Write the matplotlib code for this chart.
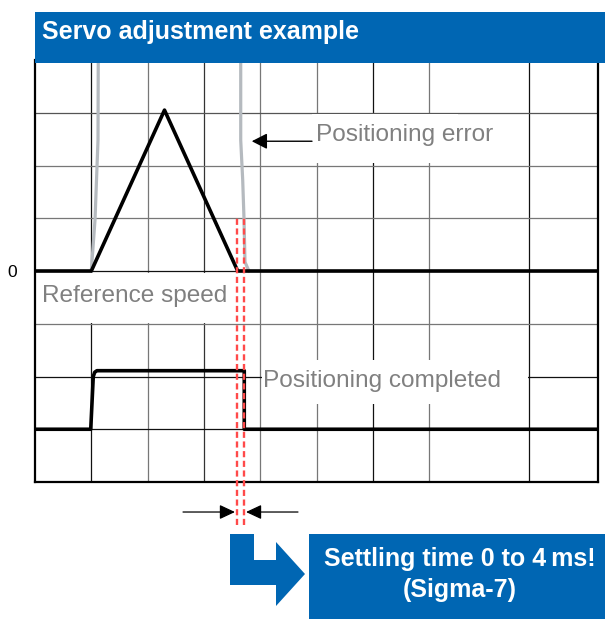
import matplotlib
matplotlib.use("Agg")
import matplotlib.pyplot as plt
from matplotlib.patches import Rectangle, Polygon

plt.rcParams['font.family'] = ['Liberation Sans', 'DejaVu Sans']

# ---------------- data (grid units: x = time divisions, y = divisions) ----------------
ref_speed_x = [0.0, 1.0, 2.3, 3.6, 10.0]
ref_speed_y = [4.0, 4.0, 7.05, 4.0, 4.0]

pos_error_x = [1.0, 1.066, 1.119, 1.125, None, 3.654, 3.654, 3.689, 3.712, 3.73, 3.80]
pos_error_y = [4.0, 4.97, 6.48, 8.6, None, 8.6, 6.48, 5.73, 5.0, 4.17, 4.0]

pos_done_x = [0.0, 0.99, 1.035, 1.06, 1.10, 3.717, 3.717, 10.0]
pos_done_y = [1.0, 1.0, 2.0, 2.08, 2.11, 2.11, 1.0, 1.0]

settle_x = [3.593, 3.72]          # red dashed markers
settle_y = [-0.815, 5.0]

vgrid = [1, 2, 3, 4, 5, 6, 7, 8.78]
vgrid_col = ['#111111', '#777777', '#333333', '#777777', '#777777', '#111111', '#777777', '#111111']
hgrid = [1, 2, 3, 4, 5, 6, 7]
hgrid_col = ['#111111', '#111111', '#777777', '#111111', '#777777', '#777777', '#555555']

zero_tick = [4.0]
zero_label = ['0']

title = 'Servo adjustment example'
label_ref = 'Reference speed'
label_err = 'Positioning error'
label_done = 'Positioning completed'
callout = 'Settling time 0 to 4\u2009ms!\n(Sigma-7)'

BLUE = '#0066b3'
GRAY_TXT = '#808080'

# ---------------- figure ----------------
W, H = 605, 619
fig = plt.figure(figsize=(W / 100, H / 100), dpi=100)
fig.patch.set_facecolor('white')

L, R, B, T = 35, 598, 482, 60
ax = fig.add_axes([L / W, (H - B) / H, (R - L) / W, (B - T) / H])
ax.set_xlim(0, 10)
ax.set_ylim(0, 8)

for xv, c in zip(vgrid, vgrid_col):
    ax.axvline(xv, color=c, lw=0.9, zorder=1)
for yv, c in zip(hgrid, hgrid_col):
    ax.axhline(yv, color=c, lw=0.9, zorder=1)

# white boxes behind labels
ax.add_patch(Rectangle((0.0, 3.02), 3.5, 0.95, facecolor='white', edgecolor='none', zorder=2))
ax.add_patch(Rectangle((4.92, 6.05), 2.6, 0.93, facecolor='white', edgecolor='none', zorder=2))
ax.add_patch(Rectangle((4.03, 1.48), 4.72, 0.83, facecolor='white', edgecolor='none', zorder=2))

ax.plot(pos_error_x, pos_error_y, color='#b5babf', lw=2.3, zorder=3, solid_joinstyle='round')
ax.plot(ref_speed_x, ref_speed_y, color='black', lw=2.6, zorder=4)
ax.plot(pos_done_x, pos_done_y, color='black', lw=2.6, zorder=4)

for sx in settle_x:
    ax.plot([sx, sx], settle_y, color='#ff4a4a', lw=1.7, linestyle=(0, (2.6, 1.5)),
            zorder=5, clip_on=False)

ax.text(0.124, 3.41, label_ref, color=GRAY_TXT, fontsize=17.6, va='baseline', zorder=6)
ax.text(4.99, 6.47, label_err, color=GRAY_TXT, fontsize=17.6, va='baseline', zorder=6)
ax.text(4.05, 1.81, label_done, color=GRAY_TXT, fontsize=17.6, va='baseline', zorder=6)

ax.annotate('', xy=(3.85, 6.46), xytext=(4.92, 6.46),
            arrowprops=dict(arrowstyle='-|>,head_length=0.94,head_width=0.48', color='black',
                            lw=1.0, mutation_scale=10, shrinkA=0, shrinkB=0), zorder=6)
ax.annotate('', xy=(3.552, -0.569), xytext=(2.629, -0.569), annotation_clip=False,
            arrowprops=dict(arrowstyle='-|>,head_length=0.94,head_width=0.44', color='black',
                            lw=0.9, mutation_scale=10, shrinkA=0, shrinkB=0))
ax.annotate('', xy=(3.748, -0.569), xytext=(4.671, -0.569), annotation_clip=False,
            arrowprops=dict(arrowstyle='-|>,head_length=0.94,head_width=0.44', color='black',
                            lw=0.9, mutation_scale=10, shrinkA=0, shrinkB=0))

ax.set_xticks([])
ax.set_yticks(zero_tick)
ax.set_yticklabels(zero_label)
ax.tick_params(axis='y', length=0, pad=13, labelsize=12.5)
for s in ['left', 'bottom', 'right']:
    ax.spines[s].set_linewidth(1.6)
    ax.spines[s].set_color('black')
ax.spines['top'].set_visible(False)

# ---------------- overlay in pixel coordinates ----------------
ov = fig.add_axes([0, 0, 1, 1], zorder=10)
ov.set_xlim(0, W)
ov.set_ylim(H, 0)
ov.axis('off')

ov.add_patch(Rectangle((35, 12), W - 35, 51, facecolor=BLUE, edgecolor='none'))
ov.text(42, 39.5, title, color='white', fontsize=18, fontweight='bold', va='baseline')

ov.add_patch(Polygon([(230, 534), (254, 534), (254, 560), (276, 560), (276, 542),
                      (305, 574), (276, 606), (276, 585), (230, 585)],
                     closed=True, facecolor=BLUE, edgecolor='none'))
ov.add_patch(Rectangle((309, 534), W - 309, H - 534, facecolor=BLUE, edgecolor='none'))
ov.text(459.5, 566, callout.split('\n')[0], color='white', fontsize=18, fontweight='bold',
        ha='center', va='baseline')
ov.text(459.5, 596.7, callout.split('\n')[1], color='white', fontsize=18, fontweight='bold',
        ha='center', va='baseline')

fig.savefig('out.png', dpi=100)
